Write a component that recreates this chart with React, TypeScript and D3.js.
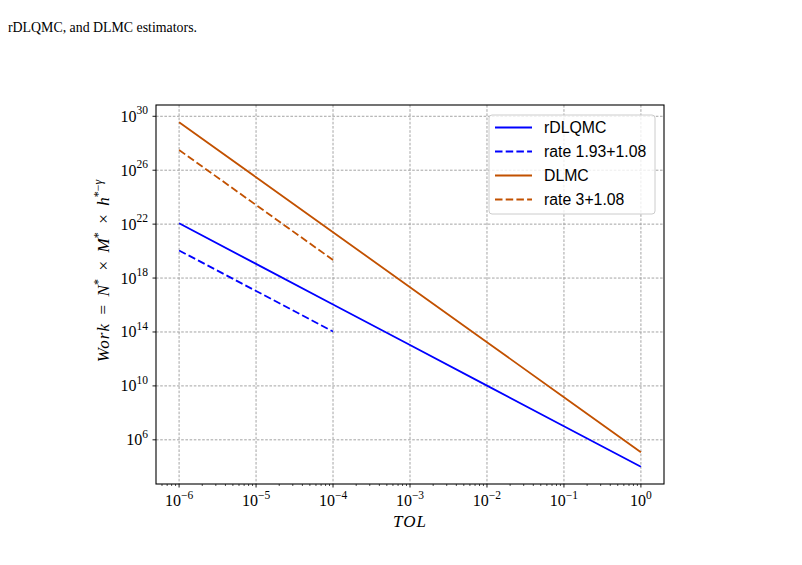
import React from 'react';
import * as d3 from 'd3';

// Tolerances and work estimates for each estimator
const tol = [1e-6, 1e-5, 1e-4, 1e-3, 1e-2, 1e-1, 1];
const workRDLQMC = [1.15e22, 1.12e19, 1.1e16, 1.07e13, 1.05e10, 1.02e7, 1.0e4];
const workDLMC = [3.63e29, 3.02e25, 2.51e21, 2.09e17, 1.74e13, 1.45e9, 1.2e5];

// Reference rate lines
const tolRate = [1e-6, 1e-5, 1e-4];
const rateRDLQMC = [1.12e20, 1.1e17, 1.07e14];
const rateDLMC = [3.16e27, 2.63e23, 2.19e19];

// Tick exponents
const xTickExp = [-6, -5, -4, -3, -2, -1, 0];
const yTickExp = [6, 10, 14, 18, 22, 26, 30];

const legendLabels = ['rDLQMC', 'rate 1.93+1.08', 'DLMC', 'rate 3+1.08'];

const BLUE = '#0000ff';
const ORANGE = '#c25100';

const W = 802;
const H = 565;
const plot = { left: 156, right: 664, top: 105, bottom: 484 };

const serif = '"Liberation Serif", "DejaVu Serif", serif';
const sans = '"Liberation Sans", Arial, sans-serif';

const DASH = '7.5,3.2';

function logPad(vals: number[]): [number, number] {
  const lo = Math.log10(d3.min(vals) as number);
  const hi = Math.log10(d3.max(vals) as number);
  const m = (hi - lo) * 0.05;
  return [Math.pow(10, lo - m), Math.pow(10, hi + m)];
}

export default function App() {
  const x = d3
    .scaleLog()
    .domain(logPad(tol))
    .range([plot.left, plot.right]);
  const y = d3
    .scaleLog()
    .domain(logPad([...workRDLQMC, ...workDLMC, ...rateRDLQMC, ...rateDLMC]))
    .range([plot.bottom, plot.top]);

  const line = (xs: number[], ys: number[]) =>
    d3
      .line<number>()
      .x((_, i) => x(xs[i]))
      .y((d) => y(d))(ys) as string;

  const series = [
    { xs: tol, ys: workRDLQMC, color: BLUE, dash: undefined },
    { xs: tolRate, ys: rateRDLQMC, color: BLUE, dash: DASH },
    { xs: tol, ys: workDLMC, color: ORANGE, dash: undefined },
    { xs: tolRate, ys: rateDLMC, color: ORANGE, dash: DASH },
  ];

  // Minor x ticks (2..9 in each decade) inside the domain
  const [xd0, xd1] = x.domain();
  const minorX: number[] = [];
  for (let e = -7; e <= 0; e++) {
    for (let k = 2; k <= 9; k++) {
      const v = k * Math.pow(10, e);
      if (v >= xd0 && v <= xd1) minorX.push(v);
    }
  }

  const gridColor = '#9a9a9a';

  const legend = { x: 489, y: 115, w: 166, h: 99 };
  const rowY = [127.5, 151.5, 175.5, 199.5];

  return (
    <svg
      width={W}
      height={H}
      style={{ position: 'absolute', left: 0, top: 0, background: '#fff' }}
    >
      <rect x={0} y={0} width={W} height={H} fill="#fff" />

      {/* caption fragment */}
      <text
        x={8}
        y={32}
        fontFamily={serif}
        fontSize={15.5}
        fill="#000"
        textLength={189}
        lengthAdjust="spacingAndGlyphs"
      >
        rDLQMC, and DLMC estimators.
      </text>

      {/* grid */}
      <g>
        {xTickExp.map((e) => (
          <line
            key={'gx' + e}
            x1={x(Math.pow(10, e))}
            x2={x(Math.pow(10, e))}
            y1={plot.top}
            y2={plot.bottom}
            stroke={gridColor}
            strokeWidth={0.9}
            strokeDasharray="2.6,1.6"
          />
        ))}
        {yTickExp.map((e) => (
          <line
            key={'gy' + e}
            x1={plot.left}
            x2={plot.right}
            y1={y(Math.pow(10, e))}
            y2={y(Math.pow(10, e))}
            stroke={gridColor}
            strokeWidth={0.9}
            strokeDasharray="2.6,1.6"
          />
        ))}
      </g>

      {/* data lines */}
      <g fill="none">
        {series.map((s, i) => (
          <path
            key={i}
            d={line(s.xs, s.ys)}
            stroke={s.color}
            strokeWidth={1.8}
            strokeDasharray={s.dash}
          />
        ))}
      </g>

      {/* axes frame */}
      <rect
        x={plot.left}
        y={plot.top}
        width={plot.right - plot.left}
        height={plot.bottom - plot.top}
        fill="none"
        stroke="#000"
        strokeWidth={1.1}
      />

      {/* x ticks */}
      {xTickExp.map((e) => {
        const px = x(Math.pow(10, e));
        return (
          <g key={'xt' + e}>
            <line x1={px} x2={px} y1={plot.bottom} y2={plot.bottom + 3.5} stroke="#000" strokeWidth={0.9} />
            <text x={px} y={506} textAnchor="middle" fontFamily={serif} fontSize={16} fill="#000">
              10
              <tspan dy={-7.5} fontSize={11.5}>
                {e < 0 ? '\u2212' + Math.abs(e) : String(e)}
              </tspan>
            </text>
          </g>
        );
      })}
      {minorX.map((v, i) => (
        <line
          key={'mx' + i}
          x1={x(v)}
          x2={x(v)}
          y1={plot.bottom}
          y2={plot.bottom + 2}
          stroke="#000"
          strokeWidth={0.7}
        />
      ))}

      {/* y ticks */}
      {yTickExp.map((e) => {
        const py = y(Math.pow(10, e));
        return (
          <g key={'yt' + e}>
            <line x1={plot.left - 3.5} x2={plot.left} y1={py} y2={py} stroke="#000" strokeWidth={0.9} />
            <text x={148} y={py + 5.5} textAnchor="end" fontFamily={serif} fontSize={16} fill="#000">
              10
              <tspan dy={-7.5} fontSize={11.5}>
                {String(e)}
              </tspan>
            </text>
          </g>
        );
      })}

      {/* axis labels */}
      <text
        x={(plot.left + plot.right) / 2}
        y={527}
        textAnchor="middle"
        fontFamily={serif}
        fontStyle="italic"
        fontSize={17}
        letterSpacing={1}
        fill="#000"
      >
        TOL
      </text>
      <text
        transform={`translate(109, 271) rotate(-90)`}
        textAnchor="middle"
        fontFamily={serif}
        fontSize={17}
        fill="#000"
      >
        <tspan fontStyle="italic" letterSpacing={1}>Work</tspan>
        <tspan>{'\u2002=\u2002'}</tspan>
        <tspan fontStyle="italic">N</tspan>
        <tspan dy={-7} fontSize={12}>*</tspan>
        <tspan dy={7}>{'\u2002×\u2002'}</tspan>
        <tspan fontStyle="italic">M</tspan>
        <tspan dy={-7} fontSize={12}>*</tspan>
        <tspan dy={7}>{'\u2002×\u2002'}</tspan>
        <tspan fontStyle="italic">h</tspan>
        <tspan dy={-7} fontSize={12}>
          *−<tspan fontStyle="italic">γ</tspan>
        </tspan>
      </text>

      {/* legend */}
      <rect
        x={legend.x}
        y={legend.y}
        width={legend.w}
        height={legend.h}
        rx={3}
        fill="#fff"
        fillOpacity={0.8}
        stroke="#cccccc"
        strokeWidth={1}
      />
      {legendLabels.map((lab, i) => (
        <g key={lab}>
          <line
            x1={495}
            x2={532}
            y1={rowY[i]}
            y2={rowY[i]}
            stroke={series[i].color}
            strokeWidth={1.8}
            strokeDasharray={series[i].dash}
          />
          <text x={544} y={rowY[i] + 5.5} fontFamily={sans} fontSize={15.8} fill="#000">
            {lab}
          </text>
        </g>
      ))}
    </svg>
  );
}
